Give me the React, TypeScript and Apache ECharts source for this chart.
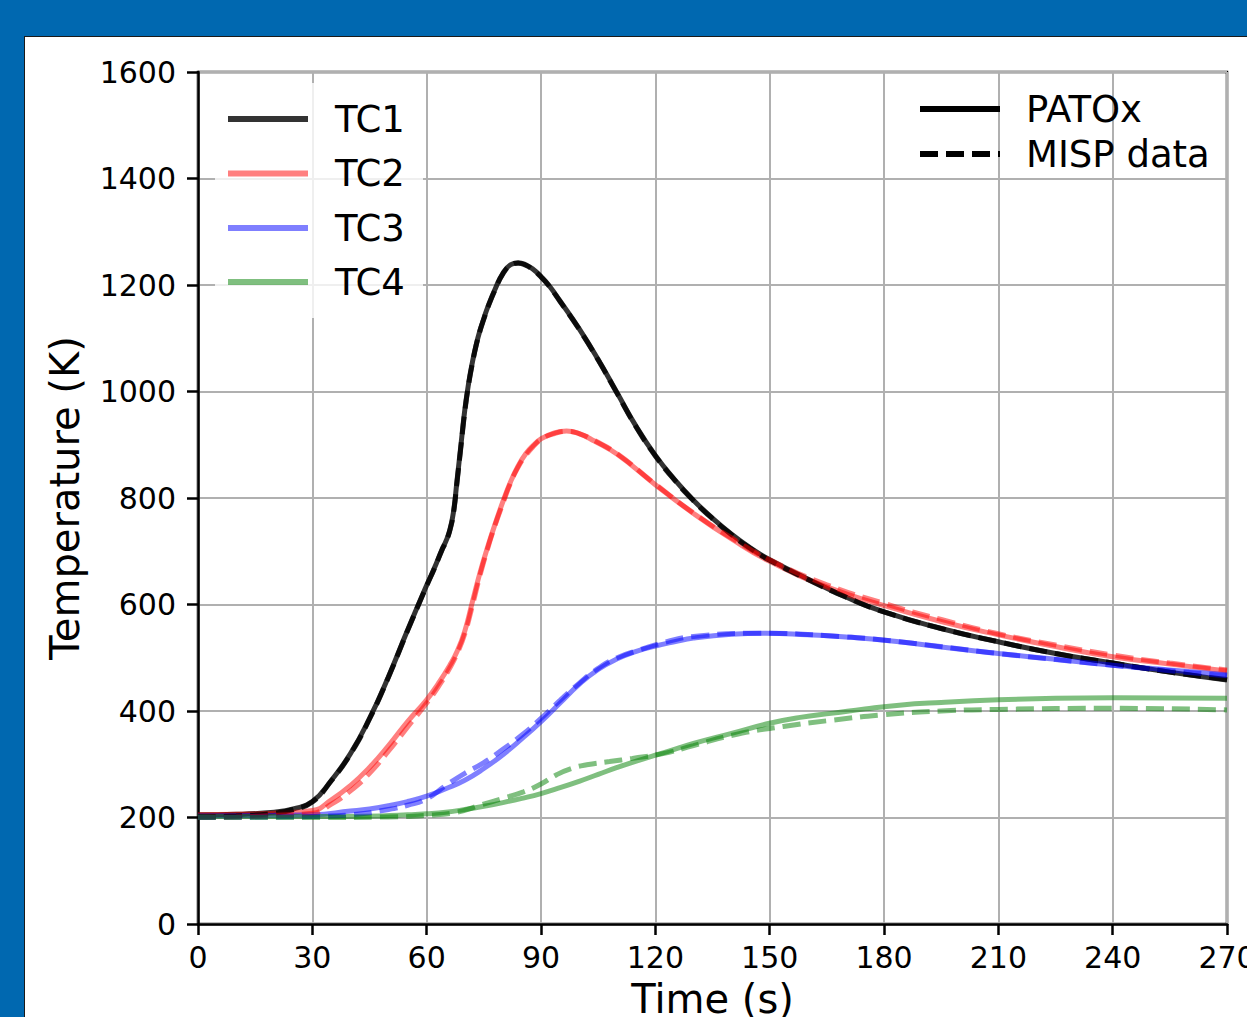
import React, { useEffect, useRef } from "react";
import * as echarts from "echarts";

// ---------- axis ticks ----------
const X_TICKS = [0, 30, 60, 90, 120, 150, 180, 210, 240, 270];
const Y_TICKS = [0, 200, 400, 600, 800, 1000, 1200, 1400, 1600];

// ---------- legend labels ----------
const TC_NAMES = ["TC1", "TC2", "TC3", "TC4"];
const STYLE_NAMES = ["PATOx", "MISP data"];

// ---------- TC1 ----------
const TC1_PATOX_T = [0, 10, 20, 25, 30, 35, 40, 45, 50, 55, 60, 62, 64, 65, 66, 67, 68, 69, 70, 71, 72, 73, 74, 75, 76, 78, 80, 82, 84, 86, 88, 90, 92, 95, 100, 105, 110, 115, 120, 125, 130, 135, 140, 145, 150, 160, 170, 180, 195, 210, 225, 240, 255, 270];
const TC1_PATOX_K = [205, 206, 210, 216, 230, 270, 320, 386, 465, 552, 636, 668, 703, 718, 738, 772, 835, 900, 965, 1015, 1055, 1088, 1115, 1137, 1158, 1193, 1222, 1238, 1242, 1238, 1229, 1216, 1200, 1170, 1118, 1060, 997, 934, 880, 835, 796, 762, 732, 706, 684, 648, 614, 586, 555, 530, 508, 490, 473, 458];
const TC1_MISP_T = [0, 10, 20, 25, 30, 35, 40, 45, 50, 55, 60, 62, 64, 65, 66, 67, 68, 69, 70, 71, 72, 73, 74, 75, 76, 78, 80, 82, 84, 86, 88, 90, 92, 95, 100, 105, 110, 115, 120, 125, 130, 135, 140, 145, 150, 160, 170, 180, 195, 210, 225, 240, 255, 270];
const TC1_MISP_K = [201, 203, 208, 215, 229, 269, 319, 385, 464, 551, 635, 667, 702, 717, 737, 770, 832, 897, 962, 1013, 1053, 1087, 1114, 1136, 1157, 1192, 1221, 1237, 1241, 1237, 1228, 1215, 1199, 1169, 1117, 1059, 996, 933, 879, 834, 795, 761, 731, 705, 683, 647, 614, 586, 555, 530, 508, 490, 473, 459];

// ---------- TC2 ----------
const TC2_PATOX_T = [0, 10, 20, 30, 35, 40, 45, 50, 55, 60, 63, 66, 68, 70, 72, 74, 76, 78, 80, 82, 84, 86, 88, 90, 93, 96.7, 100, 104, 110, 120, 130, 140, 150, 165, 180, 195, 210, 225, 240, 255, 270];
const TC2_PATOX_K = [205, 206, 208, 213, 233, 260, 294, 335, 380, 421, 451, 485, 512, 550, 605, 660, 708, 752, 793, 830, 860, 883, 899, 911, 921, 926, 921, 907, 882, 825, 771, 723, 681, 633, 598, 568, 543, 521, 502, 488, 475];
const TC2_MISP_T = [0, 10, 20, 30, 35, 40, 45, 50, 55, 60, 63, 66, 68, 70, 72, 74, 76, 78, 80, 82, 84, 86, 88, 90, 93, 97, 100, 104, 110, 120, 130, 140, 150, 165, 180, 195, 210, 225, 240, 255, 270];
const TC2_MISP_K = [200, 201, 204, 208, 225, 250, 283, 325, 370, 415, 445, 480, 508, 545, 598, 655, 705, 750, 790, 828, 858, 880, 897, 910, 920, 925, 921, 908, 883, 826, 772, 725, 684, 637, 602, 572, 545, 524, 505, 490, 477];

// ---------- TC3 ----------
const TC3_PATOX_T = [0, 20, 30, 40, 45, 50, 55, 60, 65, 70, 75, 80, 85, 90, 95, 100, 105, 110, 115, 120, 125, 130, 140, 149, 160, 170, 184, 195, 210, 225, 240, 255, 270];
const TC3_PATOX_K = [203, 204, 205, 212, 216, 222, 230, 240, 254, 270, 292, 318, 348, 380, 415, 450, 478, 498, 512, 522, 530, 537, 544, 546, 543, 539, 530, 520, 508, 497, 486, 477, 468];
const TC3_MISP_T = [0, 20, 30, 40, 50, 55, 60, 65, 70, 75, 80, 85, 90, 95, 100, 105, 110, 116, 123, 130, 146.6, 168.5, 184, 210, 240, 270];
const TC3_MISP_K = [200, 201, 202, 205, 215, 223, 235, 260, 283, 303, 328, 355, 386, 420, 452, 480, 500, 515, 530, 540, 546, 540, 530, 508, 486, 466];

// ---------- TC4 ----------
const TC4_PATOX_T = [0, 30, 48, 55, 60, 65, 70, 75, 80, 85, 90, 95, 100, 105, 110, 115, 120, 125, 130, 140, 150, 158, 166.7, 175, 184, 195, 210, 225, 240, 270];
const TC4_PATOX_K = [202, 202, 203, 205, 207, 210, 215, 221, 228, 236, 245, 256, 268, 281, 294, 306, 317, 328, 339, 358, 377, 388, 396, 404, 411, 416, 421, 424, 425, 424];
const TC4_MISP_T = [0, 30, 50, 60, 68, 74, 80, 85.4, 90, 94, 98, 102, 108, 114, 122, 130, 140.5, 153.6, 166.7, 180, 195, 210, 240, 270];
const TC4_MISP_K = [200, 200, 201, 204, 210, 223, 236, 248, 263, 280, 292, 299, 305, 311, 320, 335, 355, 371, 383, 393, 400, 403, 405, 402];

const COLORS = ["rgba(0,0,0,0.8)", "rgba(255,0,0,0.5)", "rgba(0,0,255,0.5)", "rgba(0,128,0,0.5)"];

const PATOX_T = [TC1_PATOX_T, TC2_PATOX_T, TC3_PATOX_T, TC4_PATOX_T];
const PATOX_K = [TC1_PATOX_K, TC2_PATOX_K, TC3_PATOX_K, TC4_PATOX_K];
const MISP_T = [TC1_MISP_T, TC2_MISP_T, TC3_MISP_T, TC4_MISP_T];
const MISP_K = [TC1_MISP_K, TC2_MISP_K, TC3_MISP_K, TC4_MISP_K];

const zip = (t: number[], k: number[]) => t.map((v, i) => [v, k[i]]);

const FONT = "DejaVu Sans";

export default function App() {
  const ref = useRef<HTMLDivElement>(null);

  useEffect(() => {
    if (!ref.current) return;
    const chart = echarts.init(ref.current, undefined, { renderer: "svg" });

    const series: any[] = [];
    TC_NAMES.forEach((name, i) => {
      series.push({
        name,
        type: "line",
        data: zip(PATOX_T[i], PATOX_K[i]),
        showSymbol: false,
        symbol: "none",
        smooth: 0.5,
        lineStyle: { color: COLORS[i], width: 5 },
        z: 3,
      });
    });
    TC_NAMES.forEach((name, i) => {
      series.push({
        name: name + " " + STYLE_NAMES[1],
        type: "line",
        data: zip(MISP_T[i], MISP_K[i]),
        showSymbol: false,
        symbol: "none",
        smooth: 0.5,
        lineStyle: { color: COLORS[i], width: 5, type: [18, 8] },
        z: 3,
      });
    });

    const legendRowsY = [119, 173.5, 228, 282];
    const graphic: any[] = [
      {
        type: "rect",
        z: 100,
        shape: { x: 215, y: 83, width: 208, height: 235, r: 6 },
        style: { fill: "rgba(255,255,255,0.8)" },
      },
    ];
    TC_NAMES.forEach((name, i) => {
      graphic.push({
        type: "line",
        z: 101,
        shape: { x1: 228, y1: legendRowsY[i], x2: 308, y2: legendRowsY[i] },
        style: { stroke: COLORS[i], lineWidth: 6 },
      });
      graphic.push({
        type: "text",
        z: 101,
        x: 335,
        y: legendRowsY[i],
        style: { text: name, fill: "#000", font: `37px '${FONT}'`, verticalAlign: "middle", align: "left" },
      });
    });
    const styleRowsY = [109, 154];
    STYLE_NAMES.forEach((name, i) => {
      graphic.push({
        type: "line",
        z: 101,
        shape: { x1: 920, y1: styleRowsY[i], x2: 1000, y2: styleRowsY[i] },
        style: { stroke: "#000", lineWidth: 6, lineDash: i === 1 ? [18, 8] : null },
      });
      graphic.push({
        type: "text",
        z: 101,
        x: 1026,
        y: styleRowsY[i],
        style: { text: name, fill: "#000", font: `37px '${FONT}'`, verticalAlign: "middle", align: "left" },
      });
    });

    chart.setOption({
      animation: false,
      backgroundColor: "transparent",
      textStyle: { fontFamily: FONT },
      grid: {
        left: 198,
        top: 72,
        width: 1029,
        height: 852,
        show: true,
        borderColor: "#000",
        borderWidth: 2.5,
        backgroundColor: "transparent",
        containLabel: false,
        outerBoundsMode: "none",
      },
      xAxis: {
        type: "value",
        min: X_TICKS[0],
        max: X_TICKS[X_TICKS.length - 1],
        interval: X_TICKS[1] - X_TICKS[0],
        name: "Time (s)",
        nameLocation: "middle",
        nameGap: 55,
        nameTextStyle: { fontSize: 40, color: "#000", fontFamily: FONT },
        axisLine: { show: true, lineStyle: { color: "#000", width: 2.5 } },
        axisTick: { show: true, length: 11, lineStyle: { color: "#000", width: 2.5 } },
        axisLabel: { fontSize: 30, color: "#000", margin: 18, fontFamily: FONT, showMaxLabel: true, showMinLabel: true, formatter: (v: number) => String(v) },
        splitLine: { show: true, lineStyle: { color: "#b0b0b0", width: 2 } },
      },
      yAxis: {
        type: "value",
        min: Y_TICKS[0],
        max: Y_TICKS[Y_TICKS.length - 1],
        interval: Y_TICKS[1] - Y_TICKS[0],
        name: "Temperature (K)",
        nameLocation: "middle",
        nameGap: 113,
        nameTextStyle: { fontSize: 40, color: "#000", fontFamily: FONT },
        axisLine: { show: true, lineStyle: { color: "#000", width: 2.5 } },
        axisTick: { show: true, length: 11, lineStyle: { color: "#000", width: 2.5 } },
        axisLabel: { fontSize: 30, color: "#000", margin: 22, fontFamily: FONT, formatter: (v: number) => String(v) },
        splitLine: { show: true, lineStyle: { color: "#b0b0b0", width: 2 } },
      },
      series,
      graphic,
    });

    return () => chart.dispose();
  }, []);

  return (
    <div
      style={{
        position: "fixed",
        left: 0,
        top: 0,
        width: 1247,
        height: 1017,
        overflow: "hidden",
        background: "#0068b0",
      }}
    >
      <div
        style={{
          position: "absolute",
          left: 24,
          top: 36,
          width: 1400,
          height: 1200,
          background: "#fff",
          borderLeft: "1.5px solid #1a1a1a",
          borderTop: "1.5px solid #1a1a1a",
          boxSizing: "border-box",
        }}
      />
      <div ref={ref} style={{ position: "absolute", left: 0, top: 0, width: 1300, height: 1100 }} />
    </div>
  );
}
